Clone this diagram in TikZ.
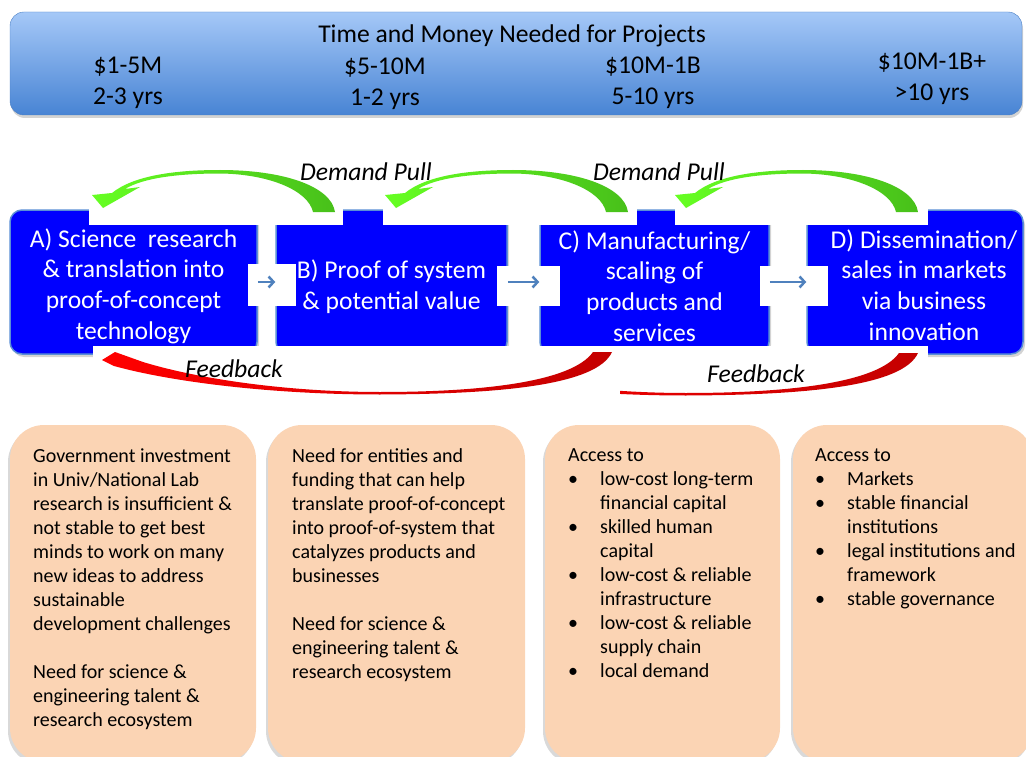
\documentclass[tikz,border=0pt]{standalone}
\usepackage{fontspec}
\setmainfont{Carlito}
\usetikzlibrary{shadows,arrows.meta}

\definecolor{stageblue}{HTML}{0000FF}
\definecolor{stageedge}{HTML}{5B8FD6}
\definecolor{bartop}{HTML}{A5C8F7}
\definecolor{barbottom}{HTML}{4884D4}
\definecolor{baredge}{HTML}{4A7FC4}
\definecolor{peach}{HTML}{FBD4B4}
\definecolor{linkblue}{HTML}{4F81BD}
\definecolor{pulllight}{HTML}{66FF22}
\definecolor{pulldark}{HTML}{48C01A}
\definecolor{backlight}{HTML}{FF0000}
\definecolor{backdark}{HTML}{C40000}

\newcommand{\needdot}{\makebox[32pt][l]{\textbullet}}
\newcommand{\needgap}{\hspace*{32pt}}

\begin{document}
\begin{tikzpicture}[x=1pt,y=-1pt,
  big/.style={font=\fontsize{25.6}{30.7}\selectfont},
  tag/.style={font=\fontsize{25.6}{30.7}\selectfont\itshape},
  banner/.style={draw=baredge,top color=bartop,bottom color=barbottom,rounded corners=14pt,
    inner sep=0pt,drop shadow={opacity=.35,shadow xshift=1pt,shadow yshift=-3pt}},
  stage/.style={draw=stageedge,line width=1.5pt,fill=stageblue,rounded corners=12pt,
    minimum height=144pt,inner sep=0pt,
    drop shadow={opacity=.35,shadow xshift=2pt,shadow yshift=-3pt}},
  stagetext/.style={big,text=white,align=center},
  need/.style={fill=peach,rounded corners=34pt,minimum height=337pt,inner sep=0pt,
    drop shadow={opacity=.3,shadow xshift=-2pt,shadow yshift=-3pt}},
  needtext/.style={anchor=base west,align=left,inner sep=0pt,
    font=\fontsize{20}{24}\selectfont},
  patch/.style={fill=white},
  link/.style={draw=linkblue,line width=2.5pt,-{Straight Barb[length=5pt,width=11pt]}},
  pics/pull/.style={code={
    \path[left color=pulllight,right color=pulldark]
      (0,0) -- (-11,-13) -- (9,-15) .. controls (30,-32) and (70,-38) .. (117,-38)
      .. controls (180,-38) and (228,-22) .. (232,4) -- (210,4)
      .. controls (205,-18) and (165,-34) .. (117,-34.5)
      .. controls (75,-34.5) and (40,-30) .. (22,-19) -- (37,-21) -- cycle;}},
  pics/back/.style={code={
    \path[left color=backlight,right color=backdark]
      (0,0) -- (13,-8) -- (41,2) .. controls (100,20) and (190,32) .. (278,32)
      .. controls (380,32) and (470,22) .. (491,-8) -- (510,-8)
      .. controls (495,25) and (400,34) .. (278,34.5)
      .. controls (170,34.5) and (70,22) .. (12,6) -- cycle;}}
]
  \useasboundingbox (0,0) rectangle (1026,757);

  % time and money bar
  \node[banner,minimum width=1012pt,minimum height=103pt] (bar) at (516,63.5) {};
  \node[big] (title) at (512,36) {Time and Money Needed for Projects};
  \node[big,align=center] (costA) at (128,83) {\$1-5M\\2-3 yrs};
  \node[big,align=center] (costB) at (385,84) {\$5-10M\\1-2 yrs};
  \node[big,align=center] (costC) at (653,83) {\$10M-1B\\5-10 yrs};
  \node[big,align=center] (costD) at (932,78.5) {\$10M-1B+\\>10 yrs};

  % stages
  \node[stage,minimum width=247pt] (A) at (133.5,282) {};
  \node[stage,minimum width=231pt] (B) at (391.5,282) {};
  \node[stage,minimum width=229pt] (C) at (654.5,282) {};
  \node[stage,minimum width=216pt] (D) at (915,282) {};
  \node[stagetext] (Atext) at (133.5,286) {A) Science~ research\\\& translation into\\proof-of-concept\\technology};
  \node[stagetext] (Btext) at (391.5,287) {B) Proof of system\\\& potential value};
  \node[stagetext] (Ctext) at (654.5,286) {C) Manufacturing/\\scaling of\\products and\\services};
  \node[stagetext] (Dtext) at (924,285) {D) Dissemination/\\sales in markets\\via business\\innovation};

  \fill[patch] (248,264) rectangle (296,306);
  \fill[patch] (497,266) rectangle (560,306);
  \fill[patch] (760,266) rectangle (828,306);
  \draw[link] (A) -- (B);
  \draw[link] (B) -- (C);
  \draw[link] (C) -- (D);

  % demand pull
  \fill[patch] (89,140) rectangle (343,225);
  \fill[patch] (383,140) rectangle (637,225);
  \fill[patch] (675,140) rectangle (928,225);
  \pic at (103,208) {pull};
  \pic at (396,208) {pull};
  \pic at (686,208) {pull};
  \node[tag] (pullA) at (366,172) {Demand Pull};
  \node[tag] (pullB) at (659,172) {Demand Pull};

  % feedback
  \fill[patch] (620,346) rectangle (928,410);
  \pic at (408,361) {back};
  \fill[patch] (93,346) rectangle (620,410);
  \pic at (102,360) {back};
  \node[tag] (backA) at (234,369) {Feedback};
  \node[tag] (backB) at (756,374) {Feedback};

  % needs (text nodes sit on their last line)
  \node[need,minimum width=246pt] (N1) at (133,593.5) {};
  \node[need,minimum width=257pt] (N2) at (396.5,593.5) {};
  \node[need,minimum width=235pt] (N3) at (662.5,593.5) {};
  \node[need,minimum width=240pt] (N4) at (913,593.5) {};
  \node[needtext] (n1) at (33,726) {Government investment\\in Univ/National Lab\\research is insufficient \&\\not stable to get best\\minds to work on many\\new ideas to address\\sustainable\\development challenges\\[24pt]Need for science \&\\engineering talent \&\\research ecosystem};
  \node[needtext] (n2) at (292,678) {Need for entities and\\funding that can help\\translate proof-of-concept\\into proof-of-system that\\catalyzes products and\\businesses\\[24pt]Need for science \&\\engineering talent \&\\research ecosystem};
  \node[needtext] (n3) at (568,677) {Access to\\\needdot low-cost long-term\\\needgap financial capital\\\needdot skilled human\\\needgap capital\\\needdot low-cost \& reliable\\\needgap infrastructure\\\needdot low-cost \& reliable\\\needgap supply chain\\\needdot local demand};
  \node[needtext] (n4) at (815,605) {Access to\\\needdot Markets\\\needdot stable financial\\\needgap institutions\\\needdot legal institutions and\\\needgap framework\\\needdot stable governance};
\end{tikzpicture}
\end{document}
